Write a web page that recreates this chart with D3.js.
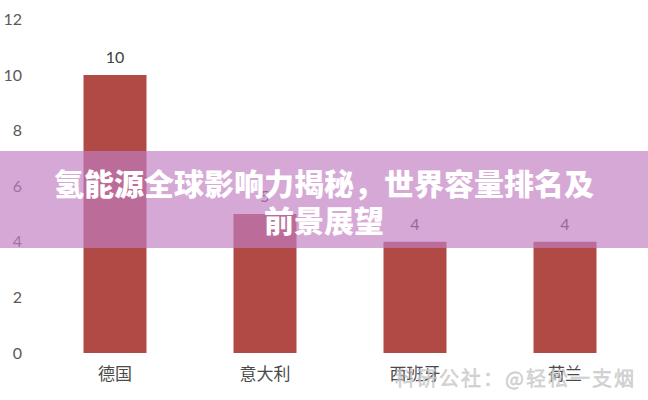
<!DOCTYPE html>
<html><head><meta charset="utf-8">
<script src="https://cdn.jsdelivr.net/npm/d3@7"></script>
<style>body{margin:0;background:#fff}svg{display:block}</style>
</head><body>
<svg id="c" width="648" height="400"></svg>
<script>
const categories = ["德国", "意大利", "西班牙", "荷兰"];
const values = [10, 5, 4, 4];
const yTicks = [0, 2, 4, 6, 8, 10, 12];
const titleLines = ["氢能源全球影响力揭秘，世界容量排名及", "前景展望"];
const watermark = "科研公社：@轻松一支烟";

const svg = d3.select("#c");
const x = d3.scaleBand().domain(categories).range([40, 640]).paddingInner(0.58).paddingOuter(0.29);
const y = d3.scaleLinear().domain([0, 12]).range([353, 19.4]);

const yAxis = d3.axisLeft(y).tickValues(yTicks).tickSize(0).tickPadding(0);
const ga = svg.append("g").attr("transform", "translate(22,0)").call(yAxis);
ga.select(".domain").remove();
ga.selectAll("text").attr("font-family", "Lato, 'Open Sans', sans-serif").attr("font-size", 16).attr("fill", "#595959");

svg.selectAll("rect.bar").data(values).join("rect").attr("class", "bar")
  .attr("x", (d, i) => x(categories[i])).attr("width", x.bandwidth())
  .attr("y", d => y(d)).attr("height", d => y(0) - y(d)).attr("fill", "#b14a45");

svg.selectAll("text.val").data(values).join("text").attr("class", "val")
  .attr("x", (d, i) => x(categories[i]) + x.bandwidth() / 2).attr("y", d => y(d) - 12)
  .attr("text-anchor", "middle").attr("font-family", "Lato, 'Open Sans', sans-serif").attr("font-size", 16)
  .attr("fill", "#404040").text(d => d);

const gx = svg.append("g").attr("transform", `translate(0,${y(0)})`)
  .call(d3.axisBottom(x).tickSize(0).tickPadding(15));
gx.select(".domain").remove();
gx.selectAll("text").attr("font-family", "'Noto Sans CJK SC', sans-serif").attr("font-size", 17).attr("fill", "#4a4a4a");

svg.append("text").attr("x", 636).attr("y", 377).attr("dominant-baseline", "central").attr("text-anchor", "end")
  .attr("font-family", "'Noto Sans CJK SC', sans-serif").attr("font-size", 20).attr("letter-spacing", 2)
  .attr("fill", "#d0d0d0").attr("stroke", "#b8b8b8").attr("stroke-width", 0.4).attr("opacity", 0.85).text(watermark);

svg.append("rect").attr("x", 0).attr("y", 151).attr("width", 648).attr("height", 97)
  .attr("fill", "rgb(194,125,194)").attr("fill-opacity", 0.67);

svg.selectAll("text.title").data(titleLines).join("text").attr("class", "title")
  .attr("x", 324).attr("y", (d, i) => 182 + i * 37).attr("dominant-baseline", "central").attr("text-anchor", "middle")
  .attr("font-family", "'Noto Sans CJK SC', sans-serif").attr("font-weight", 900).attr("font-size", 30)
  .attr("fill", "#fff").text(d => d);
</script>
</body></html>
